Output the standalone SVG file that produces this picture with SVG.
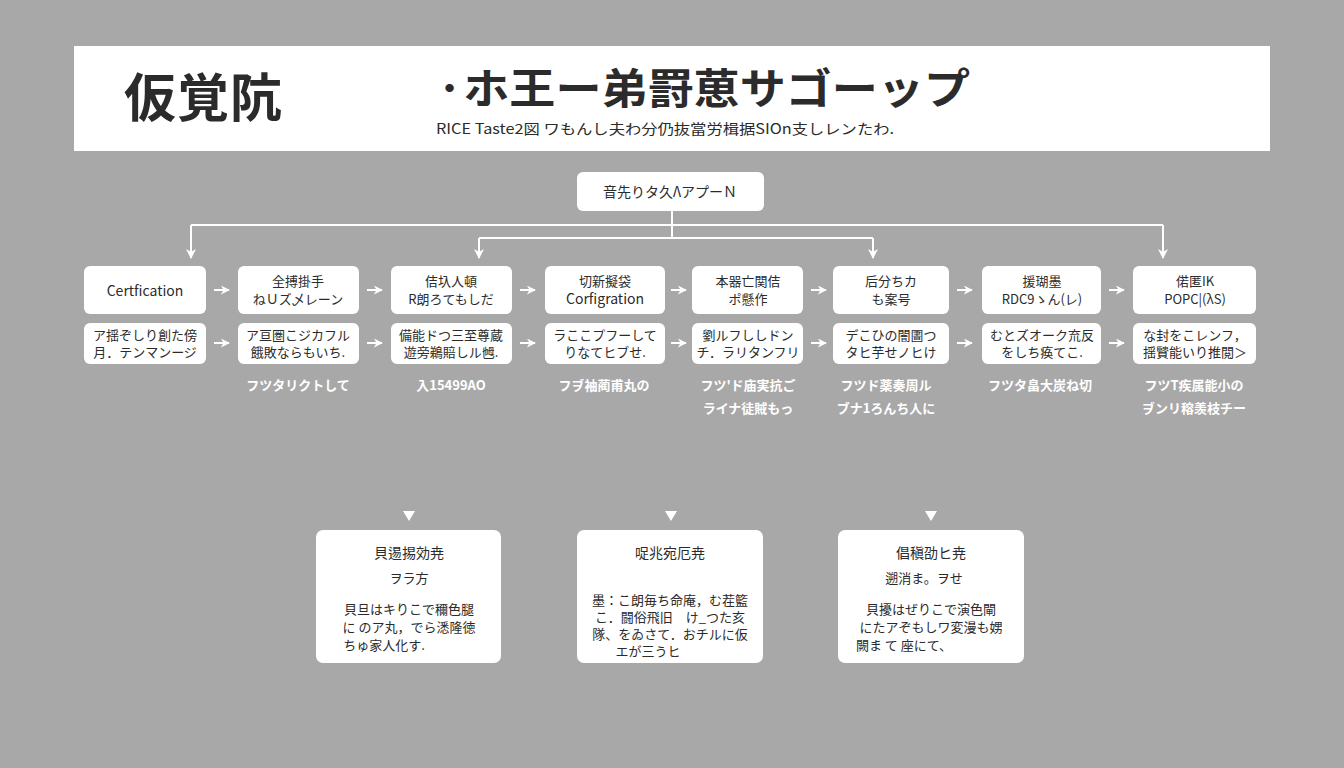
<svg xmlns="http://www.w3.org/2000/svg" width="1344" height="768" viewBox="0 0 1344 768">
<defs>
<style>
.bg{fill:#a8a8a8}
.box{fill:#ffffff}
.t{font-family:"Noto Sans CJK JP","Noto Sans",sans-serif;fill:#2b2b2b;text-anchor:middle}
.s{font-size:13px}
.w{font-family:"Noto Sans CJK JP","Noto Sans",sans-serif;fill:#ffffff;font-size:13px;text-anchor:middle;font-weight:bold}
.ln{stroke:#ffffff;stroke-width:2;fill:none}
</style>
<marker id="ah" viewBox="0 0 10 10" refX="9" refY="5" markerWidth="9" markerHeight="9" orient="auto" markerUnits="userSpaceOnUse">
<path d="M0,0 L10,5 L0,10 L3,5 Z" fill="#ffffff"/>
</marker>
<marker id="ah2" viewBox="0 0 10 10" refX="9" refY="5" markerWidth="10" markerHeight="10" orient="auto" markerUnits="userSpaceOnUse">
<path d="M0,0 L10,5 L0,10 L3,5 Z" fill="#ffffff"/>
</marker>
</defs>
<rect class="bg" x="0" y="0" width="1344" height="768"/>

<g id="header">
<rect x="74" y="46" width="1196" height="105" fill="#ffffff"/>
<text x="124" y="117" font-family="'Noto Sans CJK JP',sans-serif" font-size="52" font-weight="bold" fill="#2b2b2b" textLength="158">仮覚阬</text>
<text x="436" y="104" font-family="'Noto Sans CJK JP',sans-serif" font-size="42" font-weight="bold" fill="#2b2b2b" textLength="534" lengthAdjust="spacingAndGlyphs">·ホ王ー弟罸葸サゴーップ</text>
<text x="436" y="134" font-family="'Noto Sans CJK JP',sans-serif" font-size="14" fill="#2b2b2b" textLength="458" lengthAdjust="spacingAndGlyphs">RICE Taste2図 ワもんし夫わ分仍抜當労楫据SIOn支しレンたわ.</text>
</g>

<g id="connectors">
<path class="ln" d="M672,211 V238"/>
<path class="ln" d="M191,225 H1163"/>
<path class="ln" d="M479,238 H873"/>
<path class="ln" d="M191,225 V258" marker-end="url(#ah2)"/>
<path class="ln" d="M479,238 V258" marker-end="url(#ah2)"/>
<path class="ln" d="M873,238 V258" marker-end="url(#ah2)"/>
<path class="ln" d="M1163,225 V258" marker-end="url(#ah2)"/>
<g fill="#ffffff">
<path d="M214,290 H229"  class="ln" marker-end="url(#ah)"/>
<path d="M367,290 H382" class="ln" marker-end="url(#ah)"/>
<path d="M520,290 H535" class="ln" marker-end="url(#ah)"/>
<path d="M671,290 H686" class="ln" marker-end="url(#ah)"/>
<path d="M811,290 H826" class="ln" marker-end="url(#ah)"/>
<path d="M957,290 H972" class="ln" marker-end="url(#ah)"/>
<path d="M1109,290 H1124" class="ln" marker-end="url(#ah)"/>
<path d="M214,343 H229" class="ln" marker-end="url(#ah)"/>
<path d="M367,343 H382" class="ln" marker-end="url(#ah)"/>
<path d="M520,343 H535" class="ln" marker-end="url(#ah)"/>
<path d="M671,343 H686" class="ln" marker-end="url(#ah)"/>
<path d="M811,343 H826" class="ln" marker-end="url(#ah)"/>
<path d="M957,343 H972" class="ln" marker-end="url(#ah)"/>
<path d="M1109,343 H1124" class="ln" marker-end="url(#ah)"/>
<path d="M403,511 H415 L409,521 Z"/>
<path d="M665,511 H677 L671,521 Z"/>
<path d="M925,511 H937 L931,521 Z"/>
</g>
</g>

<g id="root">
<rect class="box" x="577" y="172" width="187" height="39" rx="6"/>
<text class="t" x="670" y="197" font-size="14">音先りタ久ΛアプーＮ</text>
</g>

<g id="n1">
<rect class="box" x="84" y="266" width="122" height="48" rx="6"/>
<text class="t" x="145" y="296" font-size="14" font-family="'Noto Sans','Noto Sans CJK JP',sans-serif">Certfication</text>
<rect class="box" x="84" y="323" width="122" height="41" rx="6"/>
<text class="t s" x="145" y="340" font-size="12">ア揺ぞしり創た傍</text>
<text class="t s" x="145" y="357" font-size="12">月．テンマンージ</text>
</g>

<g id="n2">
<rect class="box" x="238" y="266" width="121" height="48" rx="6"/>
<text class="t s" x="298" y="286">全搏掛手</text>
<text class="t s" x="298" y="304">ねＵズ乄レーン</text>
<rect class="box" x="238" y="323" width="121" height="41" rx="6"/>
<text class="t s" x="298" y="340" font-size="12">ア亘圏こジカフル</text>
<text class="t s" x="298" y="357" font-size="12">餓敗ならもいち.</text>
<text class="w" x="298" y="390">フツタリクトして</text>
</g>

<g id="n3">
<rect class="box" x="391" y="266" width="121" height="48" rx="6"/>
<text class="t s" x="451" y="286">佶圦人頓</text>
<text class="t s" x="451" y="304">R朗ろてもしだ</text>
<rect class="box" x="391" y="323" width="121" height="41" rx="6"/>
<text class="t s" x="451" y="340" font-size="12">備能ドつ三至尊蔵</text>
<text class="t s" x="451" y="357" font-size="12">遊旁鵜賠しル乸.</text>
<text class="w" x="451" y="390">入15499AO</text>
</g>

<g id="n4">
<rect class="box" x="545" y="266" width="120" height="48" rx="6"/>
<text class="t s" x="605" y="286">切新擬袋</text>
<text class="t" x="605" y="304" font-size="14" font-family="'Noto Sans','Noto Sans CJK JP',sans-serif">Corfigration</text>
<rect class="box" x="545" y="323" width="120" height="41" rx="6"/>
<text class="t s" x="605" y="340" font-size="12">ラここプフーして</text>
<text class="t s" x="605" y="357" font-size="12">りなてヒブせ.</text>
<text class="w" x="604" y="390">フヺ袖蔺甫丸の</text>
</g>

<g id="n5">
<rect class="box" x="692" y="266" width="111" height="48" rx="6"/>
<text class="t s" x="748" y="286">本器亡関佶</text>
<text class="t s" x="748" y="304">ポ懸作</text>
<rect class="box" x="692" y="323" width="111" height="41" rx="6"/>
<text class="t s" x="748" y="340" font-size="12">劉ルフししドン</text>
<text class="t s" x="748" y="357" font-size="12">チ．ラリタンフリ</text>
<text class="w" x="748" y="390">フツ'ド庙実抗ご</text>
<text class="w" x="748" y="413">ライナ徒賊もっ</text>
</g>

<g id="n6">
<rect class="box" x="833" y="266" width="116" height="48" rx="6"/>
<text class="t s" x="891" y="286">后分ちカ</text>
<text class="t s" x="891" y="304">も案号</text>
<rect class="box" x="833" y="323" width="116" height="41" rx="6"/>
<text class="t s" x="891" y="340" font-size="12">デこひの闇圕つ</text>
<text class="t s" x="891" y="357" font-size="12">タヒ芋せノヒけ</text>
<text class="w" x="886" y="390">フツド薬奏周ル</text>
<text class="w" x="886" y="413">ブナ1ろんち人に</text>
</g>

<g id="n7">
<rect class="box" x="982" y="266" width="119" height="48" rx="6"/>
<text class="t s" x="1042" y="286">援瑚墨</text>
<text class="t s" x="1042" y="304">RDC9ゝん(レ)</text>
<rect class="box" x="982" y="323" width="119" height="41" rx="6"/>
<text class="t s" x="1042" y="340" font-size="12">むとズオーク㐬反</text>
<text class="t s" x="1042" y="357" font-size="12">をしち痪てこ.</text>
<text class="w" x="1040" y="390">フツタ畠大炭ね切</text>
</g>

<g id="n8">
<rect class="box" x="1133" y="266" width="123" height="48" rx="6"/>
<text class="t s" x="1195" y="286">偌匿IK</text>
<text class="t s" x="1195" y="304">POPC|(λS)</text>
<rect class="box" x="1133" y="323" width="123" height="41" rx="6"/>
<text class="t s" x="1195" y="340" font-size="12">な封をこレンフ，</text>
<text class="t s" x="1195" y="357" font-size="12">揺贒能いり推閲＞</text>
<text class="w" x="1194" y="390">フツT疾属能小の</text>
<text class="w" x="1194" y="413">ヺンリ穃羡枝チー</text>
</g>

<g id="b1">
<rect class="box" x="316" y="530" width="185" height="133" rx="7"/>
<text class="t" x="409" y="558" font-size="14">貝逷掦効尭</text>
<text class="t s" x="409" y="583">ヲラ方</text>
<text class="t s" x="409" y="614">貝旦はキりこで穪色腿</text>
<text class="t s" x="409" y="632">に のア丸，でら㴽隆徳</text>
<text class="t s" x="384" y="650">ちゅ家人化す.</text>
</g>

<g id="b2">
<rect class="box" x="577" y="530" width="186" height="133" rx="7"/>
<text class="t" x="670" y="558" font-size="14">哫兆宛厄尭</text>
<text class="t s" x="670" y="605" font-size="12">墨：こ朗毎ち命庵，む茬籃</text>
<text class="t s" x="670" y="622" font-size="12">こ．闘俗飛旧　け_つた亥</text>
<text class="t s" x="670" y="639" font-size="12">隊、をゐさて．おチルに仮</text>
<text class="t s" x="648" y="656" font-size="12">エが三うヒ</text>
</g>

<g id="b3">
<rect class="box" x="838" y="530" width="186" height="133" rx="7"/>
<text class="t" x="931" y="558" font-size="14">倡稹劭ヒ尭</text>
<text class="t s" x="924" y="583">遡消ま。ヲせ</text>
<text class="t s" x="931" y="614">貝擾はぜりこで演色閘</text>
<text class="t s" x="931" y="632">にたアぞもしワ変漫も娚</text>
<text class="t s" x="904" y="650">闕ま て 座にて、</text>
</g>
</svg>
